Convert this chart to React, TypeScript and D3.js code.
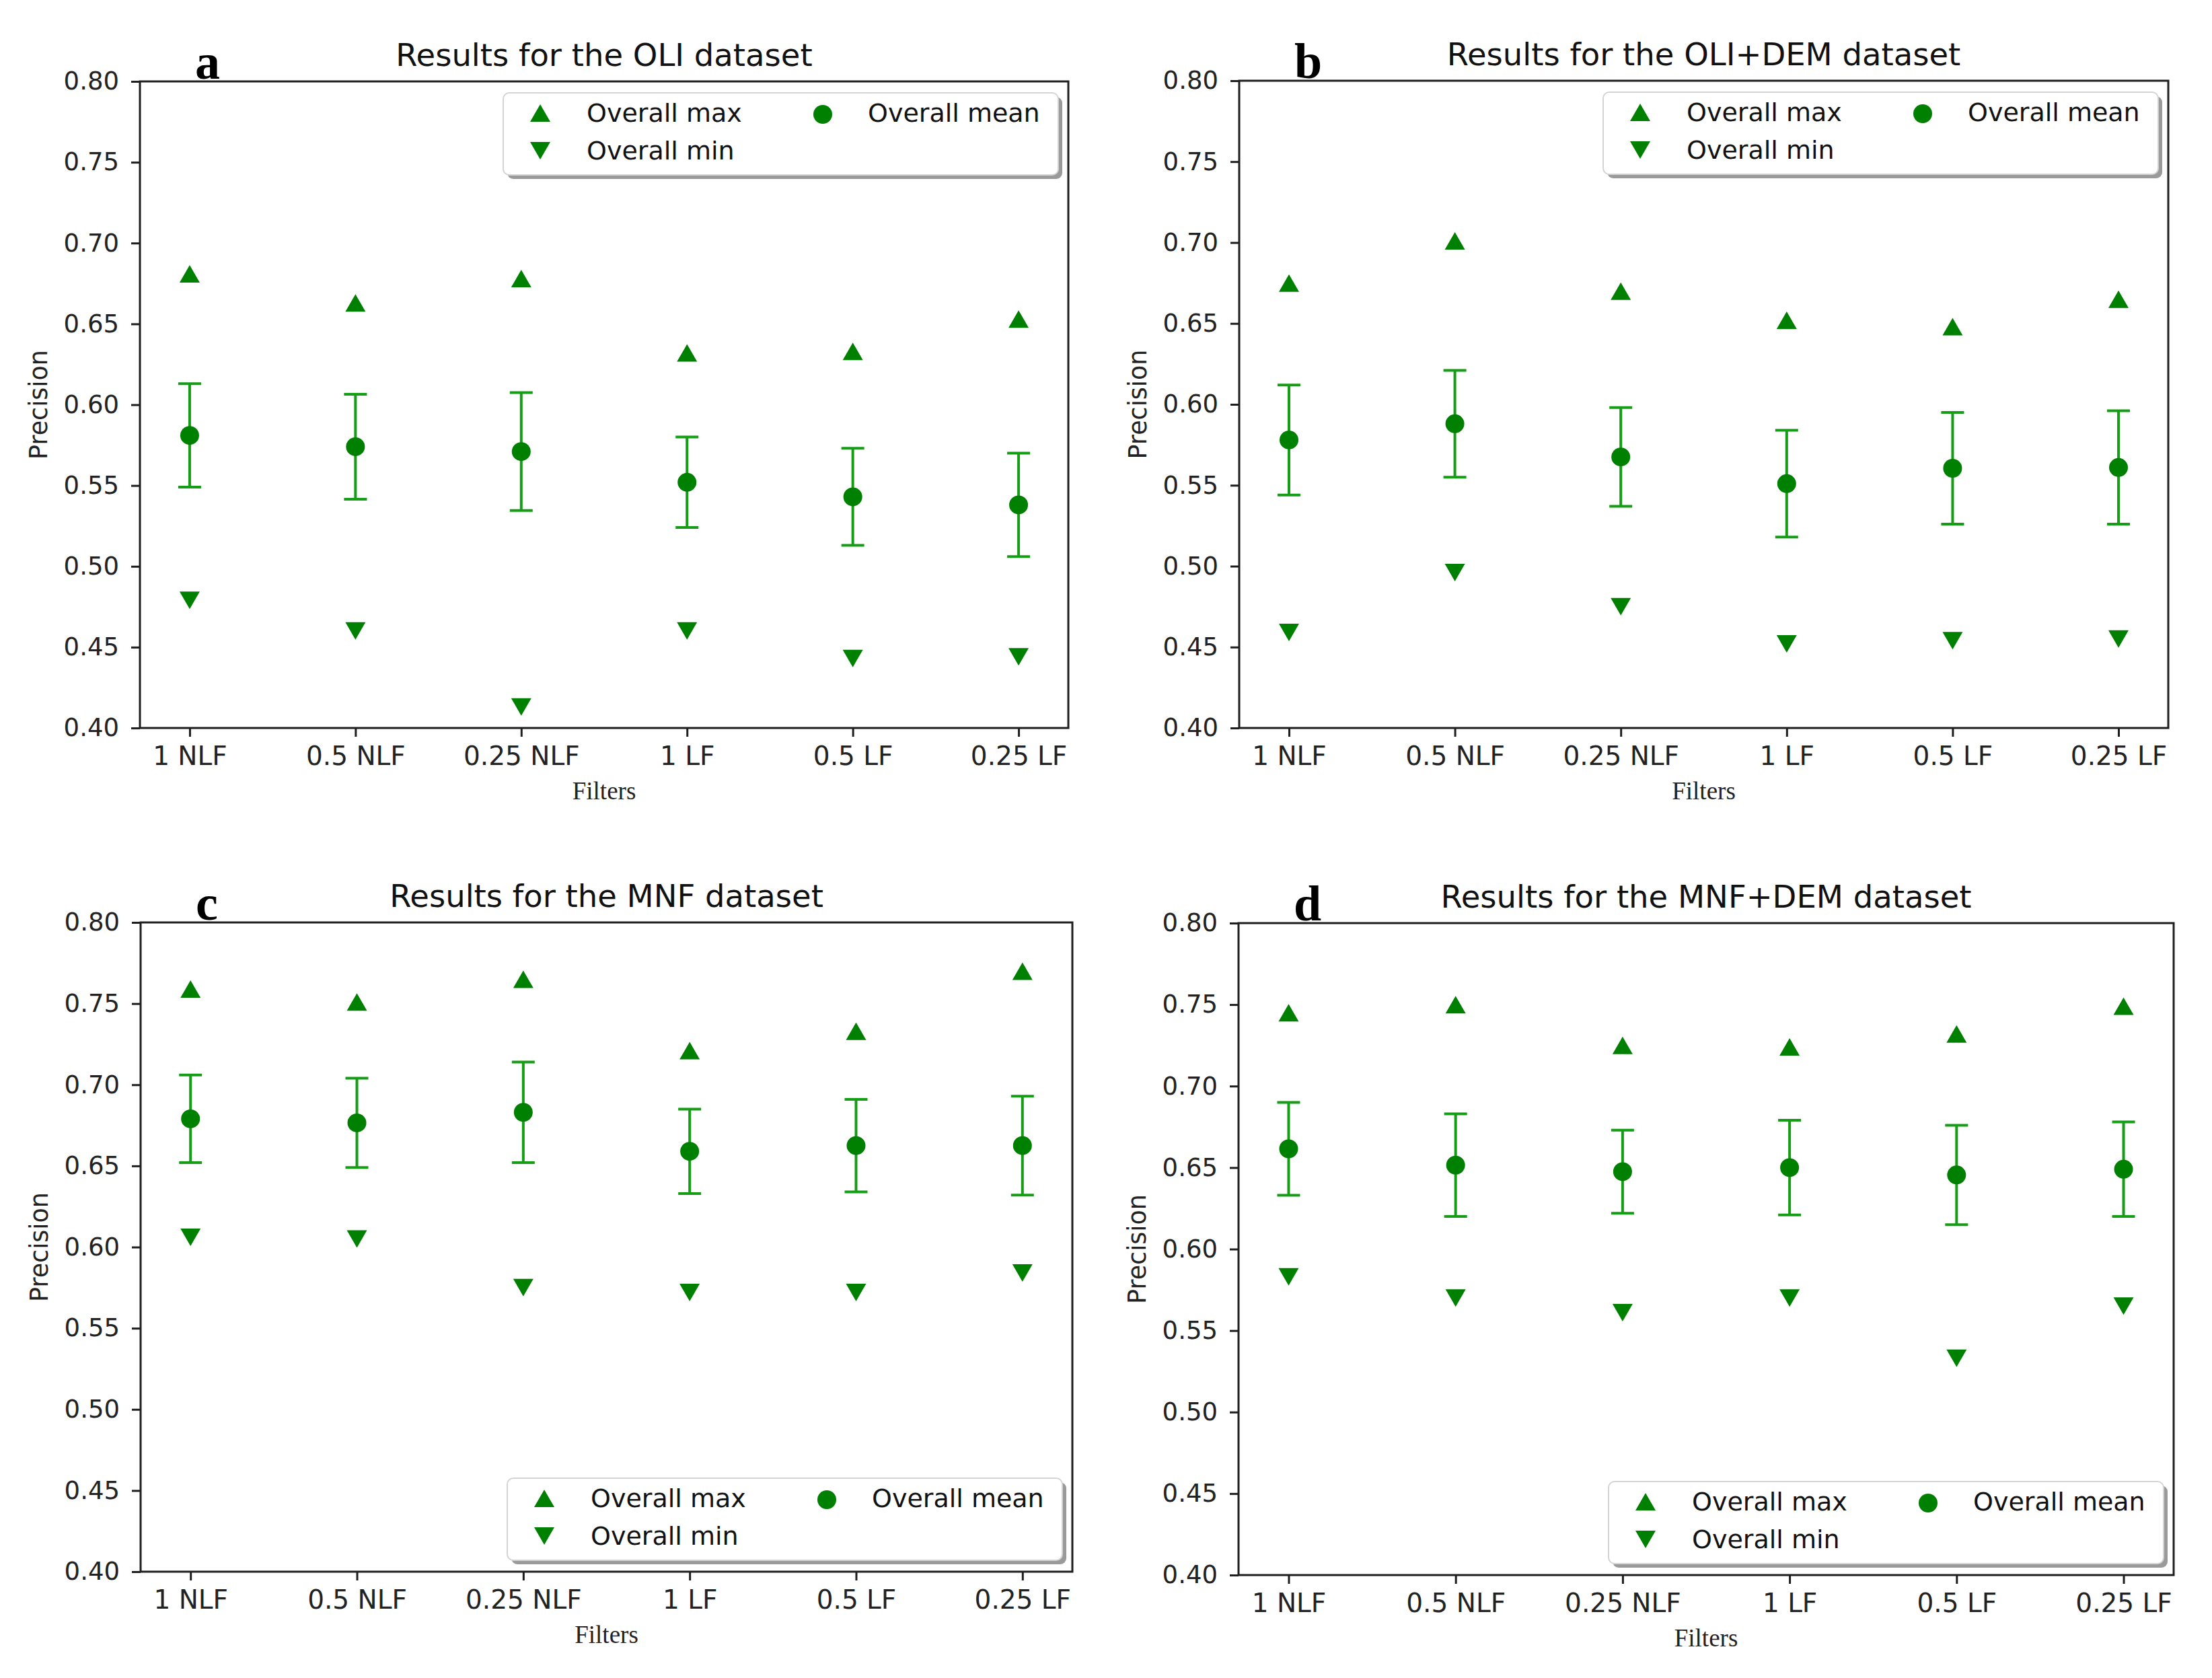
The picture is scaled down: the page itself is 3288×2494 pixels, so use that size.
import React, { useEffect, useRef } from 'react';
import * as d3 from 'd3';

const W = 3288, H = 2494;
const green = '#008000', barGreen = '#159e15', ink = '#1e1e1e';

const filters = ['1 NLF', '0.5 NLF', '0.25 NLF', '1 LF', '0.5 LF', '0.25 LF'];
const yTicks = [0.40, 0.45, 0.50, 0.55, 0.60, 0.65, 0.70, 0.75, 0.80];

// OLI
const oliMax = [0.681, 0.663, 0.678, 0.632, 0.633, 0.653];
const oliMean = [0.581, 0.574, 0.571, 0.552, 0.543, 0.538];
const oliStd = [0.032, 0.0325, 0.0365, 0.028, 0.030, 0.032];
const oliMin = [0.479, 0.460, 0.413, 0.460, 0.443, 0.444];

// OLI + DEM
const oliDemMax = [0.675, 0.701, 0.670, 0.652, 0.648, 0.665];
const oliDemMean = [0.578, 0.588, 0.5675, 0.551, 0.5605, 0.561];
const oliDemStd = [0.034, 0.033, 0.0305, 0.033, 0.0345, 0.035];
const oliDemMin = [0.459, 0.496, 0.475, 0.452, 0.454, 0.455];

// MNF
const mnfMax = [0.759, 0.751, 0.765, 0.721, 0.733, 0.770];
const mnfMean = [0.679, 0.6765, 0.683, 0.659, 0.6625, 0.6625];
const mnfStd = [0.027, 0.0275, 0.031, 0.026, 0.0285, 0.0305];
const mnfMin = [0.606, 0.605, 0.575, 0.572, 0.572, 0.584];

// MNF + DEM
const mnfDemMax = [0.745, 0.750, 0.725, 0.724, 0.732, 0.749];
const mnfDemMean = [0.6615, 0.6515, 0.6475, 0.650, 0.6455, 0.649];
const mnfDemStd = [0.0285, 0.0315, 0.0255, 0.029, 0.0305, 0.029];
const mnfDemMin = [0.583, 0.570, 0.561, 0.570, 0.533, 0.565];

const panels = [
  { tag: 'a', title: 'Results for the OLI dataset', left: 208, right: 1588, top: 121, bottom: 1082, legend: 'top',
    max: oliMax, mean: oliMean, std: oliStd, min: oliMin },
  { tag: 'b', title: 'Results for the OLI+DEM dataset', left: 1842, right: 3223, top: 120, bottom: 1082, legend: 'top',
    max: oliDemMax, mean: oliDemMean, std: oliDemStd, min: oliDemMin },
  { tag: 'c', title: 'Results for the MNF dataset', left: 209, right: 1594, top: 1371, bottom: 2336, legend: 'bottom',
    max: mnfMax, mean: mnfMean, std: mnfStd, min: mnfMin },
  { tag: 'd', title: 'Results for the MNF+DEM dataset', left: 1841, right: 3231, top: 1372, bottom: 2341, legend: 'bottom',
    max: mnfDemMax, mean: mnfDemMean, std: mnfDemStd, min: mnfDemMin },
];

const triHalfW = 15, triHalfH = 13, dotR = 14, capHalf = 17;

const triangle = (cx, cy, up) => {
  const s = up ? 1 : -1;
  return `M${cx},${cy - s * triHalfH}L${cx + triHalfW},${cy + s * triHalfH}L${cx - triHalfW},${cy + s * triHalfH}Z`;
};

function Legend({ lx, ly }) {
  const lw = 825, lh = 122;
  const font = { fontFamily: 'DejaVu Sans', fontSize: 38, fill: '#111' };
  return (
    <g>
      <rect x={lx + 6} y={ly + 6} width={lw} height={lh} rx={9} fill="#9a9a9a" />
      <rect x={lx} y={ly} width={lw} height={lh} rx={9} fill="#fff" stroke="#d4d4d4" strokeWidth={2} />
      <path d={triangle(lx + 55, ly + 30, true)} fill={green} />
      <text x={lx + 124} y={ly + 30} dy="0.35em" {...font}>Overall max</text>
      <path d={triangle(lx + 55, ly + 86, false)} fill={green} />
      <text x={lx + 124} y={ly + 86} dy="0.35em" {...font}>Overall min</text>
      <circle cx={lx + 475} cy={ly + 32} r={dotR} fill={green} />
      <text x={lx + 542} y={ly + 30} dy="0.35em" {...font}>Overall mean</text>
    </g>
  );
}

function Panel({ p }) {
  const xRef = useRef(null);
  const yRef = useRef(null);
  const x = d3.scalePoint().domain(filters).range([p.left, p.right]).padding(0.3);
  const y = d3.scaleLinear().domain([0.4, 0.8]).range([p.bottom, p.top]);

  useEffect(() => {
    const xa = d3.select(xRef.current).call(d3.axisBottom(x).tickSize(13).tickPadding(14));
    const ya = d3.select(yRef.current)
      .call(d3.axisLeft(y).tickValues(yTicks).tickFormat(d3.format('.2f')).tickSize(13).tickPadding(18));
    [xa, ya].forEach(g => {
      g.select('.domain').remove();
      g.attr('font-family', 'DejaVu Sans');
      g.selectAll('line').attr('stroke', ink).attr('stroke-width', 3);
      g.selectAll('text').attr('fill', '#222');
    });
    xa.attr('font-size', 39);
    ya.attr('font-size', 37);
  });

  const midX = (p.left + p.right) / 2;
  const midY = (p.top + p.bottom) / 2;
  const lx = p.right - 15 - 825;
  const ly = p.legend === 'top' ? p.top + 17 : p.bottom - 17 - 122;

  return (
    <g>
      <text x={midX} y={p.top - 23} textAnchor="middle" fontFamily="DejaVu Sans" fontSize={46.5} fill="#111">{p.title}</text>
      <text transform={`translate(${p.left - 151},${midY}) rotate(-90)`} textAnchor="middle" dy="0.35em"
        fontFamily="DejaVu Sans" fontSize={36.5} fill="#222">Precision</text>
      <text x={midX} y={p.bottom + 106} textAnchor="middle" fontFamily="Liberation Serif" fontSize={37} fill="#222">Filters</text>

      <g ref={xRef} transform={`translate(0,${p.bottom})`} />
      <g ref={yRef} transform={`translate(${p.left},0)`} />

      {filters.map((f, i) => {
        const cx = x(f);
        const hi = y(p.mean[i] + p.std[i]);
        const lo = y(p.mean[i] - p.std[i]);
        return (
          <g key={f}>
            <line x1={cx} x2={cx} y1={hi} y2={lo} stroke={barGreen} strokeWidth={4} />
            <line x1={cx - capHalf} x2={cx + capHalf} y1={hi} y2={hi} stroke={barGreen} strokeWidth={4} />
            <line x1={cx - capHalf} x2={cx + capHalf} y1={lo} y2={lo} stroke={barGreen} strokeWidth={4} />
            <circle cx={cx} cy={y(p.mean[i])} r={dotR} fill={green} />
            <path d={triangle(cx, y(p.max[i]), true)} fill={green} />
            <path d={triangle(cx, y(p.min[i]), false)} fill={green} />
          </g>
        );
      })}

      <Legend lx={lx} ly={ly} />
      <rect x={p.left} y={p.top} width={p.right - p.left} height={p.bottom - p.top} fill="none" stroke={ink} strokeWidth={3} />

      <text x={p.left + 82} y={p.top - 4} fontFamily="Liberation Serif" fontWeight="bold" fontSize={74} fill="#000">{p.tag}</text>
    </g>
  );
}

export default function App() {
  return (
    <svg width={W} height={H} style={{ position: 'absolute', left: 0, top: 0, background: '#fff' }}>
      <rect width={W} height={H} fill="#fff" />
      {panels.map(p => <Panel key={p.tag} p={p} />)}
    </svg>
  );
}
